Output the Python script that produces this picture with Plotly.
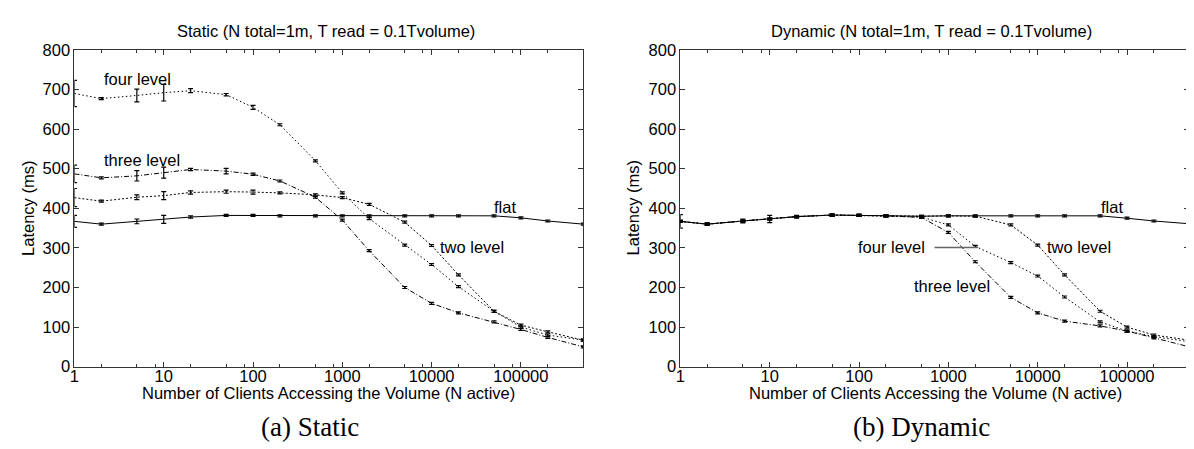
import math
import plotly.graph_objects as go

# ---------------- data ----------------
clients = [1, 2, 5, 10, 20, 50, 100, 200, 500, 1000, 2000, 5000,
           10000, 20000, 50000, 100000, 200000, 500000]

# Static
static_flat = [367, 360, 367, 372, 378, 382, 382, 381, 381, 381, 381, 381,
               381, 381, 381, 376, 368, 360]
static_flat_err = [15, 2.5, 6, 10, 3, 2.5, 2.5, 2.5, 2.5, 2.5, 2.5, 2.5, 2.5, 2.5, 2.5, 2.5, 2.5, 2.5]
static_two = [427, 418, 428, 432, 440, 442, 441, 439, 434, 427, 410, 365,
              306, 232, 140, 105, 88, 67]
static_two_err = [23, 2.5, 6, 10, 4, 4, 5, 2.5, 2.5, 2.5, 2.5, 2.5, 2.5, 2.5, 2.5, 2.5, 2.5, 2.5]
static_three = [487, 477, 482, 490, 498, 494, 486, 469, 428, 370, 293, 200,
                160, 136, 113, 94, 74, 50]
static_three_err = [22, 2.5, 13, 14, 3, 7, 3, 2.5, 2.5, 2.5, 2.5, 2.5, 2.5, 2.5, 2.5, 2.5, 2.5, 2.5]
static_four = [690, 677, 685, 692, 697, 687, 655, 611, 520, 439, 374, 307,
               258, 202, 140, 100, 80, 67]
static_four_err = [33, 2.5, 16, 21, 5, 3, 5, 2.5, 2.5, 2.5, 2.5, 2.5, 2.5, 2.5, 2.5, 2.5, 2.5, 2.5]

# Dynamic
dynamic_flat = [367, 360, 368, 373, 379, 383, 382, 381, 380, 381, 381, 381,
                381, 381, 381, 375, 368, 361]
dynamic_flat_err = [17, 2.5, 5, 9, 3, 2.5, 2.5, 2.5, 2.5, 2.5, 2.5, 2.5, 2.5, 2.5, 2.5, 2.5, 2.5, 2.5]
dynamic_two = [367, 360, 368, 373, 379, 383, 382, 381, 380, 381, 380, 358,
               307, 232, 140, 100, 80, 67]
dynamic_four = [367, 360, 368, 373, 379, 383, 382, 381, 378, 358, 304, 263,
                229, 176, 113, 90, 76, 63]
dynamic_three = [367, 360, 368, 373, 379, 383, 382, 381, 377, 339, 265, 175,
                 136, 115, 103, 90, 73, 50]
dynamic_small_err = [2.5] * 18

x_tick_vals = [1, 10, 100, 1000, 10000, 100000]
x_tick_text = ["1", "10", "100", "1000", "10000", "100000"]
x_minor_vals = [m * 10 ** d for d in range(6) for m in (2, 5, 8) if m * 10 ** d <= 500000]
y_tick_vals = [0, 100, 200, 300, 400, 500, 600, 700, 800]
x_max = 500000

titles = ["Static (N total=1m, T read = 0.1Tvolume)",
          "Dynamic (N total=1m, T read = 0.1Tvolume)"]
captions = ["(a) Static", "(b) Dynamic"]
x_title = "Number of Clients Accessing the Volume (N active)"
y_title = "Latency (ms)"

# ---------------- figure ----------------
W, H = 1194, 449
FONT = "Liberation Sans, Arial, Helvetica, sans-serif"
SERIF = "Liberation Serif, Times New Roman, serif"
AX = "#333333"

def px_x(p):
    return p / W

def px_y(p):
    return (H - p) / H

dash_styles = {
    "flat": "solid",
    "two": "2px,2px",
    "three": "5px,2px,1px,2px",
    "four": "1.5px,2.5px",
}

fig = go.Figure()

def add_series(xa, ya, yvals, errs, style):
    fig.add_trace(go.Scatter(
        x=clients, y=yvals, mode="lines", xaxis=xa, yaxis=ya,
        line=dict(color="black", width=1, dash=dash_styles[style]),
        error_y=dict(type="data", array=errs, visible=True,
                     color="black", thickness=1.2, width=2.5),
        showlegend=False, hoverinfo="skip"))

add_series("x", "y", static_flat, static_flat_err, "flat")
add_series("x", "y", static_two, static_two_err, "two")
add_series("x", "y", static_three, static_three_err, "three")
add_series("x", "y", static_four, static_four_err, "four")

add_series("x2", "y2", dynamic_flat, dynamic_flat_err, "flat")
add_series("x2", "y2", dynamic_two, dynamic_small_err, "two")
add_series("x2", "y2", dynamic_four, dynamic_small_err, "four")
add_series("x2", "y2", dynamic_three, dynamic_small_err, "three")

ydom = [px_y(364.3), px_y(34.3)]
xdom1 = [px_x(61.7), px_x(572.7)]
xdom2 = [px_x(670.2), px_x(1181.4)]

def xaxis_cfg(dom, anchor):
    return dict(
        domain=dom, anchor=anchor, type="log",
        range=[0, math.log10(x_max)],
        tickmode="array", tickvals=x_tick_vals, ticktext=x_tick_text,
        ticks="inside", ticklen=5, tickwidth=1, tickcolor=AX,
        minor=dict(tickmode="array", tickvals=x_minor_vals, ticks="inside",
                   ticklen=3, tickwidth=1, tickcolor=AX, showgrid=False),
        showline=True, linecolor=AX, linewidth=1, mirror="ticks",
        showgrid=False, zeroline=False, ticklabelstandoff=-5,
        tickfont=dict(family=FONT, size=16.5, color="black"),
    )

def yaxis_cfg(anchor):
    return dict(
        domain=ydom, anchor=anchor, range=[0, 800],
        tickmode="array", tickvals=y_tick_vals,
        ticks="inside", ticklen=5, tickwidth=1, tickcolor=AX,
        showline=True, linecolor=AX, linewidth=1, mirror="ticks",
        showgrid=False, zeroline=False,
        tickfont=dict(family=FONT, size=16.5, color="black"),
    )

fig.update_layout(
    width=W, height=H,
    margin=dict(l=0, r=0, t=0, b=0),
    paper_bgcolor="white", plot_bgcolor="white",
    xaxis=xaxis_cfg(xdom1, "y"),
    yaxis=yaxis_cfg("x"),
    xaxis2=xaxis_cfg(xdom2, "y2"),
    yaxis2=yaxis_cfg("x2"),
    showlegend=False,
)

ann = []
def text_ann(x, y, text, xref="paper", yref="paper", size=16.5, xanchor="center",
             yanchor="middle", family=FONT, angle=0):
    ann.append(dict(x=x, y=y, xref=xref, yref=yref, text=text, showarrow=False,
                    xanchor=xanchor, yanchor=yanchor, textangle=angle,
                    font=dict(family=family, size=size, color="black")))

L = math.log10
# titles
text_ann(px_x(314), px_y(15), titles[0])
text_ann(px_x(922), px_y(15), titles[1])
# y titles
text_ann(px_x(15), px_y(199), y_title, angle=-90)
text_ann(px_x(623), px_y(199), y_title, angle=-90)
# x titles
text_ann(px_x(317), px_y(392), x_title)
text_ann(px_x(926), px_y(392), x_title)
# captions
text_ann(px_x(298), px_y(427), captions[0], size=27, family=SERIF)
text_ann(px_x(912), px_y(427), captions[1], size=27, family=SERIF)

# curve labels, static
text_ann(L(2.03), 727, "four level", "x", "y", xanchor="left")
text_ann(L(2.03), 522, "three level", "x", "y", xanchor="left")
text_ann(L(48000), 403, "flat", "x", "y", xanchor="left")
text_ann(L(11900), 303, "two level", "x", "y", xanchor="left")
# curve labels, dynamic
text_ann(L(48500), 404, "flat", "x2", "y2", xanchor="left")
text_ann(L(11970), 302, "two level", "x2", "y2", xanchor="left")
text_ann(L(570), 302, "four level", "x2", "y2", xanchor="right")
text_ann(L(1100), 205, "three level", "x2", "y2")

fig.update_layout(annotations=ann)
fig.add_shape(type="line", xref="x2", yref="y2", x0=700, x1=2117, y0=301, y1=301,
              line=dict(color="#666666", width=1.3))

fig.write_html("out.html")
